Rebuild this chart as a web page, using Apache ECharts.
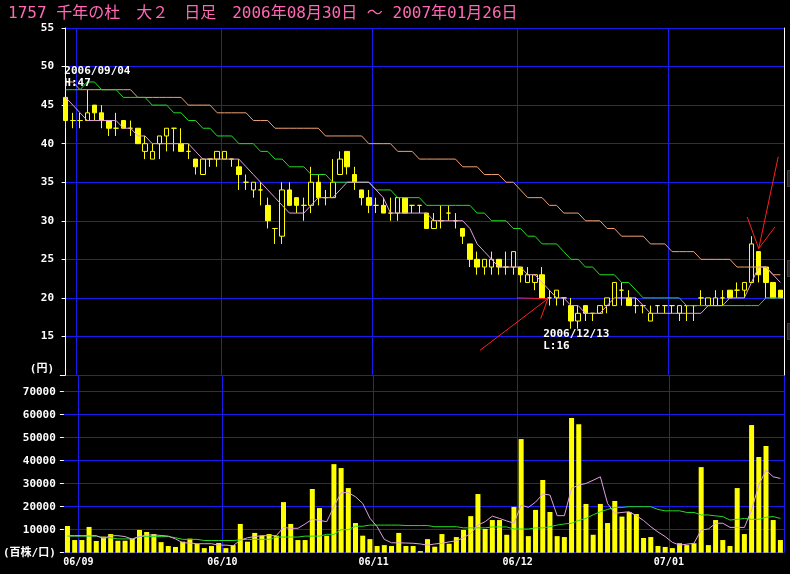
<!DOCTYPE html>
<html lang="ja">
<head>
<meta charset="utf-8">
<title>1757 千年の杜 日足</title>
<script src="https://cdn.jsdelivr.net/npm/echarts@6/dist/echarts.min.js"></script>
<style>
html,body{margin:0;padding:0;background:#000;}
#chart{width:790px;height:574px;}
</style>
</head>
<body>
<div id="chart"></div>
<script>
// 日付 (2006/08/30 - 2007/01/26)
var dates = [
  '06/08/30','06/08/31',
  '06/09/01','06/09/04','06/09/05','06/09/06','06/09/07','06/09/08','06/09/11','06/09/12','06/09/13','06/09/14',
  '06/09/15','06/09/19','06/09/20','06/09/21','06/09/22','06/09/25','06/09/26','06/09/27','06/09/28','06/09/29',
  '06/10/02','06/10/03','06/10/04','06/10/05','06/10/06','06/10/10','06/10/11','06/10/12','06/10/13','06/10/16',
  '06/10/17','06/10/18','06/10/19','06/10/20','06/10/23','06/10/24','06/10/25','06/10/26','06/10/27','06/10/30','06/10/31',
  '06/11/01','06/11/02','06/11/06','06/11/07','06/11/08','06/11/09','06/11/10','06/11/13','06/11/14','06/11/15',
  '06/11/16','06/11/17','06/11/20','06/11/21','06/11/22','06/11/24','06/11/27','06/11/28','06/11/29','06/11/30',
  '06/12/01','06/12/04','06/12/05','06/12/06','06/12/07','06/12/08','06/12/11','06/12/12','06/12/13','06/12/14',
  '06/12/15','06/12/18','06/12/19','06/12/20','06/12/21','06/12/22','06/12/25','06/12/26','06/12/27','06/12/28','06/12/29',
  '07/01/04','07/01/05','07/01/09','07/01/10','07/01/11','07/01/12','07/01/15','07/01/16','07/01/17','07/01/18',
  '07/01/19','07/01/22','07/01/23','07/01/24','07/01/25','07/01/26'
];
// 月初の目盛り
var monthIdx = [2, 22, 43, 63, 84];
var monthText = ['06/09', '06/10', '06/11', '06/12', '07/01'];

// 始値, 終値, 安値, 高値
var ohlc = [
  [46,43,42,46],[43,43,42,44],[43,43,42,44],[43,44,43,47],[45,44,43,45],
  [44,43,42,45],[43,42,41,43],[42,42,41,44],[43,42,42,43],[42,42,41,43],
  [42,40,40,42],[39,40,38,41],[38,39,38,40],[40,41,38,41],[41,42,39,42],
  [42,42,39,42],[40,39,39,42],[39,39,38,40],[38,37,36,38],[36,38,36,38],
  [38,38,37,38],[38,39,37,39],[38,39,38,39],[38,38,37,38],[37,36,34,38],
  [35,35,34,36],[34,35,33,35],[34,34,32,35],[32,30,29,33],[29,29,27,29],
  [28,34,27,35],[34,32,32,35],[33,32,31,33],[32,32,30,33],[32,35,31,37],
  [35,33,32,36],[33,33,32,34],[33,35,33,38],[36,38,36,39],[39,37,36,39],
  [36,35,34,37],[34,33,32,34],[33,32,31,34],[32,32,31,33],[32,31,31,33],
  [31,31,30,33],[31,33,30,33],[33,31,31,33],[32,32,31,32],[32,32,31,32],
  [31,29,29,31],[29,30,29,31],[30,30,29,32],[31,31,30,32],[30,30,29,31],
  [29,28,27,29],[27,25,24,27],[25,24,23,26],[24,25,23,25],[24,25,23,26],
  [25,24,23,25],[24,24,23,26],[24,26,23,26],[24,23,22,24],[22,23,22,24],
  [22,23,21,23],[23,20,20,24],[20,20,19,21],[20,21,19,21],[20,20,19,20],
  [19,17,16,20],[17,18,16,19],[19,18,17,19],[18,18,17,18],[18,19,18,19],
  [19,20,18,20],[19,22,19,22],[21,21,19,22],[20,19,19,21],[19,19,18,20],
  [19,19,18,19],[17,18,17,19],[19,19,18,19],[19,19,18,19],[19,19,18,19],
  [18,19,17,19],[19,19,17,19],[19,19,17,19],[20,20,19,21],[19,20,19,20],
  [19,20,19,21],[20,20,19,21],[21,20,20,21],[21,21,20,22],[21,22,20,22],
  [22,27,22,28],[26,23,22,26],[24,22,20,24],[22,20,20,22],[21,20,20,21]
];

// 株価の線 (短期=ピンク, 中期=緑, 長期=オレンジ)
var lineShort = [
  46,45,44,43,43,43,43,43,42,42, 41,41,40,40,40,40,40,40,39,38,
  38,38,38,38,38,37,36,35,34,33, 32,31,31,31,32,33,33,33,34,35,
  35,35,35,34,33,31,31,31,31,31, 31,30,30,30,30,30,29,27,26,25,
  24,24,24,24,23,23,22,21,20,20, 19,19,18,18,18,19,20,20,20,20,
  19,18,18,18,18,18,18,18,18,19, 19,19,20,20,20,22,24,24,23,22
];
var lineMid = [
  47,47,47,48,48,47,47,47,46,46, 46,46,45,45,45,44,44,43,43,42,
  42,41,41,41,40,40,40,39,39,38, 38,37,37,37,36,36,36,35,35,35,
  35,35,35,34,34,34,33,33,33,33, 32,32,32,32,32,32,32,31,31,30,
  30,30,29,29,28,28,27,27,27,26, 25,25,24,24,23,23,23,22,22,21,
  20,20,20,20,20,20,19,19,19,19, 19,19,19,19,19,19,19,20,20,20
];
var lineLong = [
  48,48,47,47,47,47,47,47,47,47, 46,46,46,46,46,46,46,45,45,45,
  45,44,44,44,44,44,43,43,43,42, 42,42,42,42,42,42,41,41,41,41,
  41,41,40,40,40,40,39,39,39,38, 38,38,38,38,38,37,37,37,36,36,
  36,35,35,34,33,33,33,32,32,31, 31,31,30,30,30,29,29,28,28,28,
  28,27,27,27,26,26,26,26,25,25, 25,25,25,24,24,24,24,24,23,23
];

// 出来高 (百株)
var volume = [
  11600,5500,5500,11200,5100,7000,8100,5200,5200,6100,
  9900,9000,8100,4600,2900,2500,4800,6100,3800,2000,
  2900,4200,2000,3300,12500,4800,8600,7400,8100,7400,
  22000,12500,5500,5500,27700,19400,7400,38500,36800,28100,
  12900,7400,5900,2900,3300,2900,8600,2900,2900,700,
  5900,2600,8100,3900,6800,9900,15900,25500,10300,14200,
  14200,7800,19900,49400,7200,18600,31600,17700,7200,6800,
  58600,55900,21200,7800,21200,12900,22500,15700,17700,16800,
  6400,6800,2900,2500,2000,4100,3300,4100,37200,3300,
  14200,5500,2900,28100,8100,55500,41600,46400,14200,5500
];
var volShort = [
  7400,7400,7400,7400,7400,6200,7400,7400,7000,5900,
  7000,7700,7700,7500,7200,6000,4300,4200,3900,3900,
  3900,3300,3300,3000,5500,6500,7000,7400,7400,7400,
  11000,10600,10600,12500,14600,14000,13500,20000,26100,26100,
  24300,21400,15000,11300,5800,4300,4300,4200,4100,3800,
  3300,3800,4100,4700,5200,6500,8400,12000,13500,15900,
  14900,13800,12800,20700,19700,22000,25500,25100,16100,16100,
  28000,29400,30100,31500,33000,21400,17100,17500,17800,16100,
  14000,11300,9000,7000,4500,3300,3700,4100,9900,10300,
  12800,12800,11000,11000,11000,18600,29400,35900,33000,32300
];
var volLong = [
  7200,7200,7200,7200,7200,6500,6500,6000,6000,6000,
  7000,7000,7000,7000,7000,6500,5800,5800,5800,5300,
  5300,5300,5300,5300,5600,5800,5800,5800,5800,6800,
  6800,6800,6800,7200,7200,7200,8000,8000,10000,10000,
  11500,11500,12000,12000,12000,12000,12000,11800,11800,11800,
  11800,11300,11300,11300,11300,10800,10800,10800,10800,11200,
  11200,11200,10300,10300,10300,10800,10800,11300,12000,12500,
  12800,14000,14900,16500,17800,18800,19700,19700,20000,20000,
  20000,20000,18800,18200,18200,18200,17500,17500,16400,16400,
  16000,15700,14200,14500,14900,14500,14500,15400,15700,14900
];

// 矢印 (日数インデックス, 円)
var arrowLow = [
  [[57.4,13.2],[66.8,19.9],[62.5,20.0]],
  [[66.8,19.9],[65.8,17.3]]
];
var arrowHigh = [
  [[98.7,38.3],[96.0,26.4],[94.4,30.5]],
  [[96.0,26.4],[98.25,29.2]]
];

var BLUE = '#1a1af0';
var FONT = '"DejaVu Sans Mono","Noto Sans CJK JP",monospace';
var YEL = '#ffff00';

function monthTick(i) { return monthIdx.indexOf(i) >= 0; }

// 縦の罫線だけを引く隠し軸
function gridAxis(g) {
  return {
    type: 'category', gridIndex: g, data: dates, boundaryGap: true,
    axisLine: { show: false }, axisTick: { show: false }, axisLabel: { show: false },
    splitLine: { show: true, interval: function (i) { return monthTick(i); }, lineStyle: { color: BLUE, width: 1 } }
  };
}

// 右端の枠のかけら
function frameBit(y, h) {
  return { type: 'rect', left: 787, top: y, shape: { width: 3, height: h }, style: { fill: '#2e2522', stroke: '#4a3c38', lineWidth: 1 }, silent: true };
}

var chart = echarts.init(document.getElementById('chart'));
var option = {
  backgroundColor: '#000',
  animation: false,
  title: {
    text: '1757 千年の杜　大２　日足　2006年08月30日 ～ 2007年01月26日',
    left: 3, top: 1,
    textStyle: { color: '#ff69b4', fontSize: 16, fontWeight: 'normal', fontFamily: FONT }
  },
  graphic: [frameBit(170, 16), frameBit(260, 16), frameBit(323, 16)],
  grid: [
    { left: 62, right: 6, top: 28, height: 347 },
    { left: 62, right: 6, top: 375, height: 177.7 }
  ],
  xAxis: [
    gridAxis(0),
    {
      type: 'category', gridIndex: 1, data: dates, boundaryGap: true,
      axisLine: { show: false }, axisTick: { show: false }, splitLine: { show: false },
      axisLabel: {
        interval: function (i) { return monthTick(i); },
        formatter: function (v, i) { var k = monthIdx.indexOf(i); return k >= 0 ? monthText[k] : ''; },
        color: '#fff', fontFamily: FONT, fontWeight: 'bold', fontSize: 10, margin: 5, padding: [0, 7, 0, 0]
      }
    },
    { type: 'value', gridIndex: 0, min: -0.5, max: 99.5, show: false },
    gridAxis(1)
  ],
  yAxis: [
    {
      type: 'value', gridIndex: 0, min: 10, max: 55, interval: 5,
      axisLine: { show: true, lineStyle: { color: '#fff', width: 1 } },
      axisTick: { show: true, length: 4, lineStyle: { color: '#fff' } },
      axisLabel: {
        color: '#fff', fontFamily: FONT, fontWeight: 'bold', fontSize: 11, margin: 8,
        formatter: function (v) { return v === 10 ? '{u|(円)}' : v; },
        rich: { u: { color: '#fff', fontFamily: FONT, fontWeight: 'bold', fontSize: 11, padding: [0, 0, 12, 0] } }
      },
      splitLine: { show: true, lineStyle: { color: BLUE, width: 1 } }
    },
    {
      type: 'value', gridIndex: 0, min: 10, max: 55, position: 'right',
      axisLine: { show: true, lineStyle: { color: '#fff', width: 1 } },
      axisTick: { show: false }, axisLabel: { show: false }, splitLine: { show: false }
    },
    {
      type: 'value', gridIndex: 1, min: 0, max: 77260, interval: 10000,
      axisLine: { show: false },
      axisTick: { show: true, length: 4, lineStyle: { color: '#fff' } },
      axisLabel: {
        color: '#fff', fontFamily: FONT, fontWeight: 'bold', fontSize: 11, margin: 8,
        formatter: function (v) { if (v === 0) return '(百株/口)'; if (v > 70000) return ''; return v; }
      },
      splitLine: { show: true, lineStyle: { color: BLUE, width: 1 } }
    }
  ],
  series: [
    {
      type: 'candlestick', xAxisIndex: 0, yAxisIndex: 0, data: ohlc, barWidth: 5,
      itemStyle: { color: '#000', color0: YEL, borderColor: YEL, borderColor0: YEL, borderColorDoji: YEL, borderWidth: 1 },
      markPoint: {
        symbol: 'circle', symbolSize: 0, silent: true,
        label: { show: true, color: '#fff', fontFamily: FONT, fontWeight: 'bold', fontSize: 11, lineHeight: 12, align: 'left', verticalAlign: 'top' },
        data: [
          { coord: [dates[3], 47], label: { formatter: '2006/09/04\nH:47', position: [-23, -25] } },
          { coord: [dates[71], 16], label: { formatter: '2006/12/13\nL:16', position: [-35, -1] } }
        ]
      }
    },
    { type: 'line', xAxisIndex: 0, yAxisIndex: 0, data: lineLong, symbol: 'none', lineStyle: { color: '#f0a070', width: 1 } },
    { type: 'line', xAxisIndex: 0, yAxisIndex: 0, data: lineMid, symbol: 'none', lineStyle: { color: '#22dd22', width: 1 } },
    { type: 'line', xAxisIndex: 0, yAxisIndex: 0, data: lineShort, symbol: 'none', lineStyle: { color: '#e0a0e0', width: 1 } },
    {
      type: 'lines', coordinateSystem: 'cartesian2d', xAxisIndex: 2, yAxisIndex: 0, polyline: true, z: 10,
      lineStyle: { color: '#ff2020', width: 1, opacity: 1 },
      data: arrowLow.concat(arrowHigh).map(function (c) { return { coords: c }; })
    },
    { type: 'bar', xAxisIndex: 1, yAxisIndex: 2, data: volume, barWidth: 5, itemStyle: { color: YEL } },
    { type: 'line', xAxisIndex: 1, yAxisIndex: 2, data: volLong, symbol: 'none', lineStyle: { color: '#22dd22', width: 1 } },
    { type: 'line', xAxisIndex: 1, yAxisIndex: 2, data: volShort, symbol: 'none', lineStyle: { color: '#e0a0e0', width: 1 } }
  ]
};
chart.setOption(option);
</script>
</body>
</html>
